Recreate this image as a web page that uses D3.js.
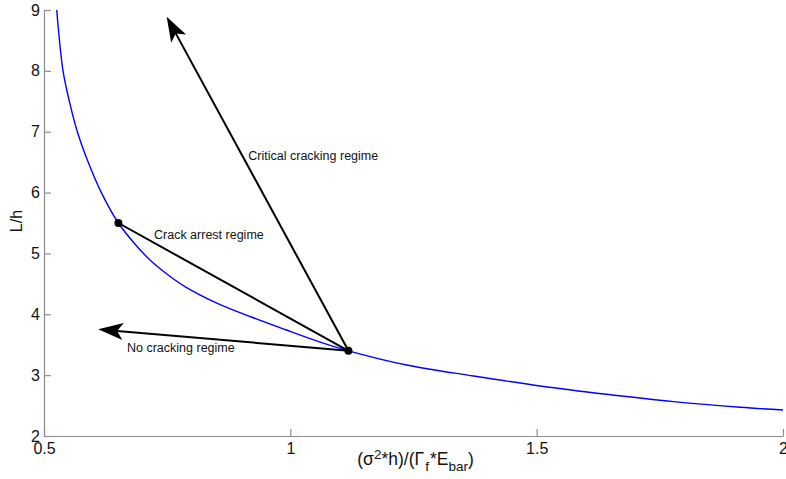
<!DOCTYPE html>
<html>
<head>
<meta charset="utf-8">
<script src="https://cdn.jsdelivr.net/npm/d3@7"></script>
<style>
  html, body { margin: 0; padding: 0; background: #fff; }
  svg { display: block; font-family: "Liberation Sans", Arial, Helvetica, sans-serif; }
</style>
</head>
<body>
<svg id="chart" width="786" height="479"></svg>
<script>
// Critical curve: L/h against the normalised load sigma^2 h / (Gamma_f E_bar)
const curveX = [0.5258, 0.5386, 0.5515, 0.5677, 0.588, 0.6164, 0.651, 0.684, 0.718, 0.752, 0.786,
                0.853, 0.921, 0.989, 1.056, 1.118, 1.236, 1.372, 1.507, 1.642, 1.778, 1.913, 2.0];
const curveY = [9.0, 8.0, 7.5, 7.0, 6.535, 6.0, 5.5, 5.16, 4.87, 4.645, 4.455,
                4.175, 3.955, 3.75, 3.555, 3.40, 3.167, 2.986, 2.822, 2.685, 2.564, 2.472, 2.427];

// Operating point on the curve and the arrest point
const pivotPoint = [1.118, 3.40];
const arrestPoint = [0.651, 5.50];
// Arrow tips for the two other regimes
const criticalTip = [0.749, 8.89];
const noCrackTip = [0.610, 3.753];

// Regime labels: [text, x, y(baseline)] in data units
const regimeLabels = [
  ["Critical cracking regime", 0.9147, 6.543],
  ["Crack arrest regime", 0.7233, 5.242],
  ["No cracking regime", 0.6685, 3.385]
];

const xTicks = [0.5, 1, 1.5, 2];
const xTickLabels = ["0.5", "1", "1.5", "2"];
const yTicks = [2, 3, 4, 5, 6, 7, 8, 9];

const svg = d3.select("#chart");
const margin = { left: 44, right: 3, top: 10, bottom: 43 };
const W = 786, H = 479;

const x = d3.scaleLinear().domain([0.5, 2]).range([margin.left, W - margin.right]);
const y = d3.scaleLinear().domain([2, 9]).range([H - margin.bottom, margin.top]);

const axisColor = "#8c8c8c";

// Axes with inward ticks
const gx = svg.append("g")
  .attr("transform", `translate(0,${y(2)})`)
  .call(d3.axisBottom(x).tickValues(xTicks)
        .tickFormat((d, i) => xTickLabels[i])
        .tickSizeInner(-7).tickSizeOuter(0).tickPadding(7));
const gy = svg.append("g")
  .attr("transform", `translate(${x(0.5)},0)`)
  .call(d3.axisLeft(y).tickValues(yTicks).tickFormat(d3.format("d"))
        .tickSizeInner(-7).tickSizeOuter(0).tickPadding(4));

[gx, gy].forEach(g => {
  g.select(".domain").attr("stroke", axisColor).attr("stroke-width", 1.2);
  g.selectAll(".tick line").attr("stroke", axisColor).attr("stroke-width", 1.2);
  g.selectAll(".tick text").attr("fill", "#111").attr("font-size", 16);
});

// Curve
const line = d3.line()
  .x(d => x(d[0])).y(d => y(d[1]))
  .curve(d3.curveCatmullRom.alpha(0.5));
const curveData = curveX.map((v, i) => [v, curveY[i]]);
svg.append("path")
  .datum(curveData)
  .attr("d", line)
  .attr("fill", "none")
  .attr("stroke", "#0000ff")
  .attr("stroke-width", 1.4);

// Arrow with a filled, notched head
function drawArrow(from, to) {
  const sx = x(from[0]), sy = y(from[1]);
  const tx = x(to[0]), ty = y(to[1]);
  const dx = tx - sx, dy = ty - sy;
  const len = Math.hypot(dx, dy);
  const ux = dx / len, uy = dy / len;
  const nx = -uy, ny = ux;
  const headLen = 25, halfW = 8.5, notch = 6;
  const bx = tx - ux * headLen, by = ty - uy * headLen;
  const mx = tx - ux * (headLen - notch), my = ty - uy * (headLen - notch);
  svg.append("line")
    .attr("x1", sx).attr("y1", sy).attr("x2", mx).attr("y2", my)
    .attr("stroke", "#000").attr("stroke-width", 2);
  svg.append("path")
    .attr("d", `M${tx},${ty}L${bx + nx * halfW},${by + ny * halfW}L${mx},${my}L${bx - nx * halfW},${by - ny * halfW}Z`)
    .attr("fill", "#000");
}

drawArrow(pivotPoint, criticalTip);
drawArrow(pivotPoint, noCrackTip);

// Crack arrest segment
svg.append("line")
  .attr("x1", x(pivotPoint[0])).attr("y1", y(pivotPoint[1]))
  .attr("x2", x(arrestPoint[0])).attr("y2", y(arrestPoint[1]))
  .attr("stroke", "#000").attr("stroke-width", 2);

svg.selectAll("circle.pt")
  .data([arrestPoint, pivotPoint])
  .enter().append("circle")
  .attr("class", "pt")
  .attr("cx", d => x(d[0])).attr("cy", d => y(d[1]))
  .attr("r", 4).attr("fill", "#000");

// Regime labels
svg.selectAll("text.regime")
  .data(regimeLabels)
  .enter().append("text")
  .attr("class", "regime")
  .attr("x", d => x(d[1])).attr("y", d => y(d[2]))
  .attr("font-size", 12.5)
  .attr("fill", "#111")
  .text(d => d[0]);

// Axis titles
const xt = svg.append("text")
  .attr("x", (x(0.5) + x(2)) / 2 + 2)
  .attr("y", 465)
  .attr("text-anchor", "middle")
  .attr("font-size", 17.5)
  .attr("fill", "#111");
xt.append("tspan").text("(σ");
xt.append("tspan").attr("dy", -6).attr("font-size", 13.5).text("2");
xt.append("tspan").attr("dy", 6).text("*h)/(Γ");
xt.append("tspan").attr("dy", 6).attr("font-size", 13.5).attr("dx", 1).text("f");
xt.append("tspan").attr("dy", -6).attr("dx", 1).text("*E");
xt.append("tspan").attr("dy", 6).attr("font-size", 13.5).text("bar");
xt.append("tspan").attr("dy", -6).text(")");

svg.append("text")
  .attr("transform", `translate(22,${(y(2) + y(9)) / 2 - 2}) rotate(-90)`)
  .attr("text-anchor", "middle")
  .attr("font-size", 16)
  .attr("fill", "#111")
  .text("L/h");
</script>
</body>
</html>
